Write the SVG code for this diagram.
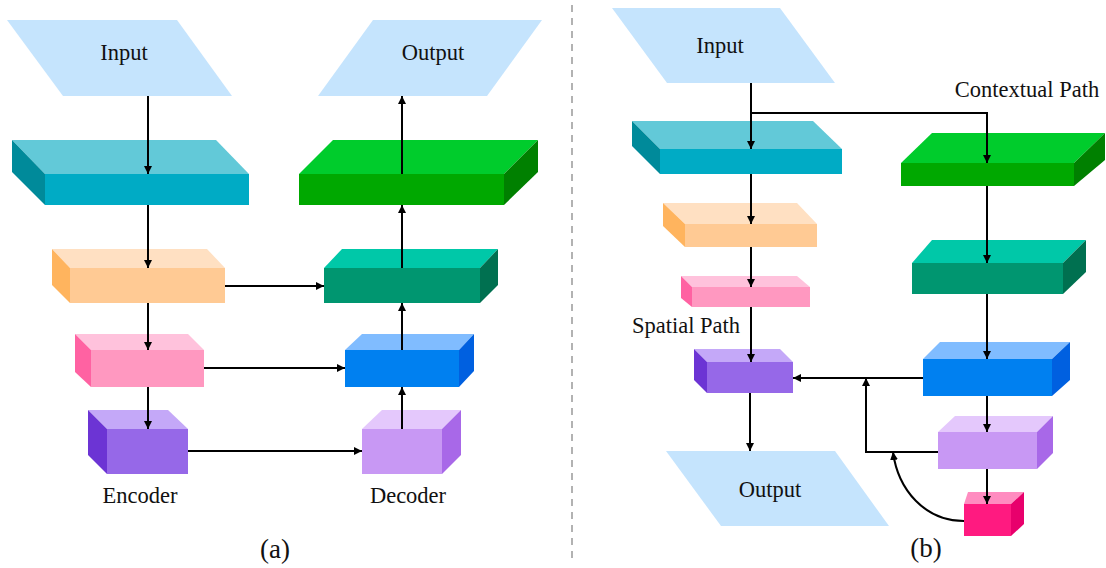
<svg xmlns="http://www.w3.org/2000/svg" width="1106" height="568" viewBox="0 0 1106 568">
<defs>
<marker id="ah" viewBox="0 0 10 10" refX="10" refY="5" markerWidth="4" markerHeight="4.5" orient="auto" markerUnits="strokeWidth">
<path d="M0,0 L10,5 L0,10 z" fill="#000"/>
</marker>
<style>
.t{font-family:"Liberation Serif","Times New Roman","DejaVu Serif",serif;font-size:22.5px;fill:#111;text-anchor:middle}
.cap{font-family:"Liberation Serif","Times New Roman","DejaVu Serif",serif;font-size:27px;fill:#111;text-anchor:middle}
.io{fill:#C5E4FD}
.c{fill:none;stroke:#000;stroke-width:2}
.a{marker-end:url(#ah)}
</style>
</defs>
<rect width="1106" height="568" fill="#fff"/>
<line x1="572" y1="5" x2="572" y2="562" stroke="#999" stroke-width="1.5" stroke-dasharray="7,6"/>

<!-- Panel (a) -->
<g id="a-input"><polygon class="io" points="7,20 177,20 232,96 63,96"/><text class="t" x="124" y="60">Input</text></g>
<g id="a-output"><polygon class="io" points="373,20 542,20 487,96 318,96"/><text class="t" x="433" y="60">Output</text></g>

<g id="a-cyan">
<polygon fill="#62C9D8" points="12,140 216,140 249,174 45,174"/>
<polygon fill="#008A9A" points="12,140 45,174 45,205 12,172"/>
<rect fill="#00ABC5" x="45" y="174" width="204" height="31"/>
</g>
<g id="a-orange">
<polygon fill="#FFE0C2" points="52,249 207,249 225,268 70,268"/>
<polygon fill="#FFB45E" points="52,249 70,268 70,303 52,285"/>
<rect fill="#FFCA94" x="70" y="268" width="155" height="35"/>
</g>
<g id="a-pink">
<polygon fill="#FFC2DC" points="75,334 188,334 204,350 91,350"/>
<polygon fill="#FF62A2" points="75,334 91,350 91,387 75,372"/>
<rect fill="#FF98C0" x="91" y="350" width="113" height="37"/>
</g>
<g id="a-purple">
<polygon fill="#C4A8F8" points="88,410 168,410 188,429 107,429"/>
<polygon fill="#6C34D4" points="88,410 107,429 107,474 88,455"/>
<rect fill="#9668E8" x="107" y="429" width="81" height="45"/>
</g>
<g id="a-green">
<polygon fill="#00CC2C" points="333,140 538,140 504,174 299,174"/>
<polygon fill="#008000" points="538,140 538,172 504,205 504,174"/>
<rect fill="#00A800" x="299" y="174" width="205" height="31"/>
</g>
<g id="a-teal">
<polygon fill="#00C8A8" points="342,249 498,249 480,268 324,268"/>
<polygon fill="#007050" points="498,249 498,285 480,303 480,268"/>
<rect fill="#009670" x="324" y="268" width="156" height="35"/>
</g>
<g id="a-blue">
<polygon fill="#80BCFF" points="362,334 474,334 459,350 345,350"/>
<polygon fill="#0060E0" points="474,334 474,371 459,387 459,350"/>
<rect fill="#0080F0" x="345" y="350" width="114" height="37"/>
</g>
<g id="a-lilac">
<polygon fill="#E4C8FC" points="382,410 461,410 442,429 362,429"/>
<polygon fill="#A868E8" points="461,410 461,455 442,474 442,429"/>
<rect fill="#C898F4" x="362" y="429" width="80" height="45"/>
</g>
<g id="a-labels">
<text class="t" x="140" y="503">Encoder</text>
<text class="t" x="408" y="503">Decoder</text>
<text class="cap" x="275" y="558">(a)</text>
</g>

<!-- Panel (b) -->
<g id="b-input"><polygon class="io" points="612,8 780,8 835,83 667,83"/><text class="t" x="720" y="53">Input</text></g>
<g id="b-output"><polygon class="io" points="666,451 835,451 889,526 721,526"/><text class="t" x="770" y="497">Output</text></g>

<g id="b-cyan">
<polygon fill="#62C9D8" points="632,121 813,121 842,149 660,149"/>
<polygon fill="#008A9A" points="632,121 660,149 660,174 632,146"/>
<rect fill="#00ABC5" x="660" y="149" width="182" height="25"/>
</g>
<g id="b-orange">
<polygon fill="#FFE0C2" points="663,203 797,203 817,224 685,224"/>
<polygon fill="#FFB45E" points="663,203 685,224 685,247 663,226"/>
<rect fill="#FFCA94" x="685" y="224" width="132" height="23"/>
</g>
<g id="b-pink">
<polygon fill="#FFC2DC" points="681,276 797,276 810,287 692,287"/>
<polygon fill="#FF62A2" points="681,276 692,287 692,307 681,298"/>
<rect fill="#FF98C0" x="692" y="287" width="118" height="20"/>
</g>
<g id="b-purple">
<polygon fill="#C4A8F8" points="694,349 780,349 793,362 707,362"/>
<polygon fill="#6C34D4" points="694,349 707,362 707,393 694,380"/>
<rect fill="#9668E8" x="707" y="362" width="86" height="31"/>
</g>
<g id="b-green">
<polygon fill="#00CC2C" points="932,133 1105,133 1074,163 901,163"/>
<polygon fill="#008000" points="1105,133 1105,160 1074,186 1074,163"/>
<rect fill="#00A800" x="901" y="163" width="173" height="23"/>
</g>
<g id="b-teal">
<polygon fill="#00C8A8" points="932,240 1086,240 1063,263 912,263"/>
<polygon fill="#007050" points="1086,240 1086,272 1063,294 1063,263"/>
<rect fill="#009670" x="912" y="263" width="151" height="31"/>
</g>
<g id="b-blue">
<polygon fill="#80BCFF" points="940,342 1070,342 1052,359 923,359"/>
<polygon fill="#0060E0" points="1070,342 1070,380 1052,396 1052,359"/>
<rect fill="#0080F0" x="923" y="359" width="129" height="37"/>
</g>
<g id="b-lilac">
<polygon fill="#E4C8FC" points="955,416 1053,416 1037,432 938,432"/>
<polygon fill="#A868E8" points="1053,416 1053,453 1037,469 1037,432"/>
<rect fill="#C898F4" x="938" y="432" width="99" height="37"/>
</g>
<g id="b-magenta">
<polygon fill="#FF8CC0" points="968,492 1024,492 1011,504 964,504"/>
<polygon fill="#E8006C" points="1024,492 1024,524 1011,536 1011,504"/>
<rect fill="#FF1A80" x="964" y="504" width="47" height="32"/>
</g>
<g id="b-labels">
<text class="t" x="1027" y="97">Contextual Path</text>
<text class="t" x="686" y="333">Spatial Path</text>
<text class="cap" x="926" y="557">(b)</text>
</g>

<!-- Connectors -->
<g id="connectors">
<line class="c a" x1="148" y1="96" x2="148" y2="174"/>
<line class="c a" x1="148" y1="205" x2="148" y2="268"/>
<line class="c a" x1="148" y1="303" x2="148" y2="350"/>
<line class="c a" x1="148" y1="387" x2="148" y2="429"/>
<line class="c a" x1="225" y1="286" x2="324" y2="286"/>
<line class="c a" x1="204" y1="368" x2="345" y2="368"/>
<line class="c a" x1="188" y1="451" x2="362" y2="451"/>
<line class="c a" x1="402" y1="429" x2="402" y2="387"/>
<line class="c a" x1="402" y1="350" x2="402" y2="303"/>
<line class="c a" x1="402" y1="268" x2="402" y2="205"/>
<line class="c a" x1="402" y1="174" x2="402" y2="96"/>

<line class="c a" x1="751" y1="83" x2="751" y2="149"/>
<polyline class="c a" points="751,113 987,113 987,163"/>
<line class="c a" x1="751" y1="174" x2="751" y2="224"/>
<line class="c a" x1="751" y1="247" x2="751" y2="287"/>
<line class="c a" x1="751" y1="307" x2="751" y2="362"/>
<line class="c a" x1="750" y1="393" x2="750" y2="451"/>
<line class="c a" x1="987" y1="186" x2="987" y2="263"/>
<line class="c a" x1="987" y1="294" x2="987" y2="359"/>
<line class="c a" x1="987" y1="396" x2="987" y2="432"/>
<line class="c a" x1="987" y1="469" x2="987" y2="504"/>
<line class="c a" x1="923" y1="378" x2="793" y2="378"/>
<polyline class="c a" points="938,452 866,452 866,378"/>
<path class="c a" d="M964,521 C925,521 898,490 893,452"/>
</g>
</svg>
